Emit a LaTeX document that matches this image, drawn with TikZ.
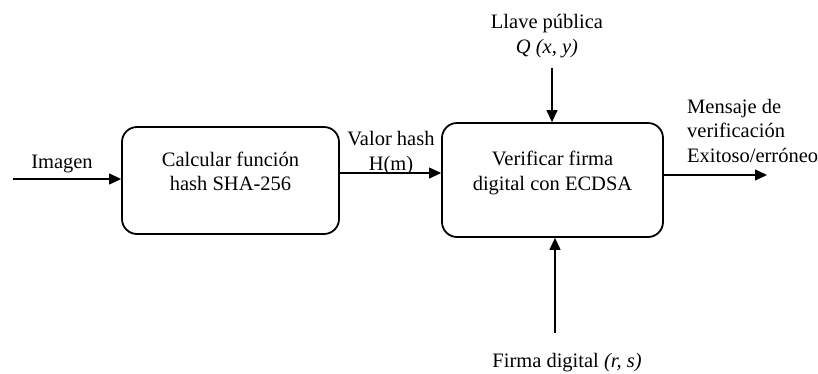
\documentclass[tikz,border=0pt]{standalone}
\usepackage{fontspec}
\setmainfont{Liberation Serif}
\usetikzlibrary{arrows.meta}
% box text sits a little above the box centre; keep its extents, move the ink up
\newcommand{\liftedtext}[1]{\raisebox{7pt}[\height][\depth]{\begin{tabular}{@{}c@{}}#1\end{tabular}}}
\begin{document}
\begin{tikzpicture}[x=1pt,y=-1pt,
  every node/.style={font=\fontsize{20.5}{24.5}\selectfont},
  procbox/.style={draw, line width=1.8pt, rounded corners=15pt, align=center, inner sep=0pt},
  lbl/.style={inner sep=0pt},
  arr/.style={line width=1.2pt, -{Triangle[length=12pt,width=11pt]}}]
  \useasboundingbox (0,0) rectangle (818,373);
  \renewcommand{\arraystretch}{1.0}

  % processing blocks
  \node[procbox, minimum width=217pt, minimum height=107pt] (box1) at (230.5,180.5) {\liftedtext{Calcular función\\hash SHA-256}};
  \node[procbox, minimum width=221pt, minimum height=114pt] (box2) at (552.5,180) {\liftedtext{Verificar firma\\digital con ECDSA}};

  % labels (base anchor sits on the last line of each text)
  \node[lbl, anchor=base] (img) at (62,168) {Imagen};
  \node[lbl, align=center, anchor=base] (hash) at (391,170) {Valor hash\\H(m)};
  \node[lbl, align=center, anchor=base] (key) at (547,53) {Llave pública\\\textit{Q (x, y)}};
  \node[lbl, align=left, anchor=base west] (msg) at (687,162) {Mensaje de\\verificación\\Exitoso/erróneo};
  \node[lbl, anchor=base] (sig) at (567,367) {Firma digital \textit{(r, s)}};

  % free ends of the connectors
  \coordinate (imgstart) at (13,179);
  \coordinate (hashline) at (339,173);
  \coordinate (keystart) at (552,68);
  \coordinate (outend) at (767,175);
  \coordinate (sigstart) at (555,333);

  % connectors
  \draw[arr] (imgstart) -- (box1.west |- imgstart);
  \draw[arr] (box1.east |- hashline) -- (box2.west |- hashline);
  \draw[arr] (keystart) -- (keystart |- box2.north);
  \draw[arr] (box2.east |- outend) -- (outend);
  \draw[arr] (sigstart) -- (sigstart |- box2.south);
\end{tikzpicture}
\end{document}
